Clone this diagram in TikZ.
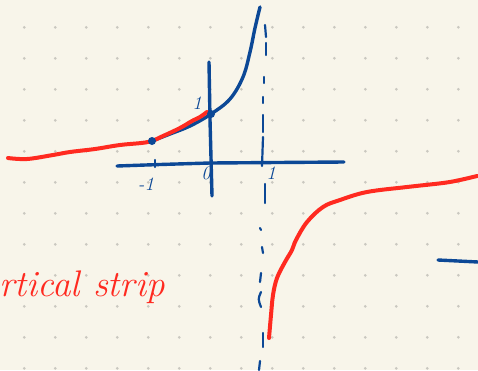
\documentclass[tikz,border=0pt]{standalone}
\usepackage{tikz}
\definecolor{paper}{RGB}{248,245,234}
\definecolor{dotc}{RGB}{202,200,192}
\definecolor{penblue}{RGB}{12,72,150}
\definecolor{penred}{RGB}{255,42,32}
\tikzset{
  bluepen/.style={draw=penblue, line width=3.4pt, line cap=round, line join=round},
  redpen/.style={draw=penred, line width=4pt, line cap=round, line join=round},
  dashpen/.style={draw=penblue, line width=2.2pt, line cap=round},
  bluelbl/.style={text=penblue, inner sep=0pt, font=\fontsize{19}{19}\selectfont\itshape},
}
\begin{document}
\begin{tikzpicture}[x=1pt,y=-1pt]
\useasboundingbox (0,0) rectangle (478,370);
\fill[paper] (0,0) rectangle (478,370);
% dot grid
\foreach \i in {0,...,14}{
  \foreach \j in {0,...,11}{
    \fill[dotc] ({24.3+31*\i},{27.3+31*\j}) circle[radius=1.5pt];
  }
}
% axes
\draw[bluepen] (117,166) -- (160,164.5) -- (210,163) -- (344,162);
\draw[bluepen] (209,62) -- (210,120) -- (212,196);
\draw[bluepen, line width=2.4pt] (155,160) -- (155,167);
% dashed asymptote
\draw[dashpen] (265,25) -- (266,37);
\draw[dashpen] (266,43) -- (266,55);
\draw[dashpen] (264,77) -- (264,83);
\draw[dashpen] (263,97) -- (263,103);
\draw[dashpen] (263,115) -- (263,132);
\draw[dashpen] (263,137) -- (262,166);
\draw[dashpen] (265,184) -- (265,203);
\draw[dashpen] (260,228) -- (261,230);
\draw[dashpen] (262,247) -- (263,253);
\draw[dashpen] (261,273) -- (260,282);
\draw[dashpen] (261,292) .. controls (258,299) .. (261,307);
\draw[dashpen] (263,333) -- (263,347);
\draw[dashpen] (260,361) -- (259,370);
% blue graph
\draw[bluepen] plot[smooth, tension=0.6] coordinates {(152,141) (170,134) (190,126) (211,114) (230,99) (243,77) (250,52) (255,28) (260,7)};
\draw[bluepen] (438,260) -- (478,262);
% red graph
\draw[redpen] plot[smooth, tension=0.6] coordinates {(8,158) (27,159) (53,155) (70,152) (95,149) (120,145) (148,142) (163,136) (180,128) (192,121) (200,117) (207,112)};
\draw[redpen] plot[smooth, tension=0.6] coordinates {(269,338) (271,315) (273,295) (277,278) (285,262) (292,250) (296,240) (307,222) (323,207) (340,200) (367,192) (407,187) (443,183) (460,180) (477,176)};
% points
\fill[penblue] (152,141) circle[radius=4pt];
\fill[penblue] (211,114) circle[radius=4pt];
% labels
\node[bluelbl] (ylab) at (197,103) {1};
\node[bluelbl] (olab) at (206,173) {0};
\node[bluelbl] (mlab) at (146,184) {-1};
\node[bluelbl] (xlab) at (271,173) {1};
\node[anchor=base west, inner sep=0pt, text=penred, font=\fontsize{37}{37}\selectfont\itshape] (strip) at (-1,296) {rtical strip};
\end{tikzpicture}
\end{document}
